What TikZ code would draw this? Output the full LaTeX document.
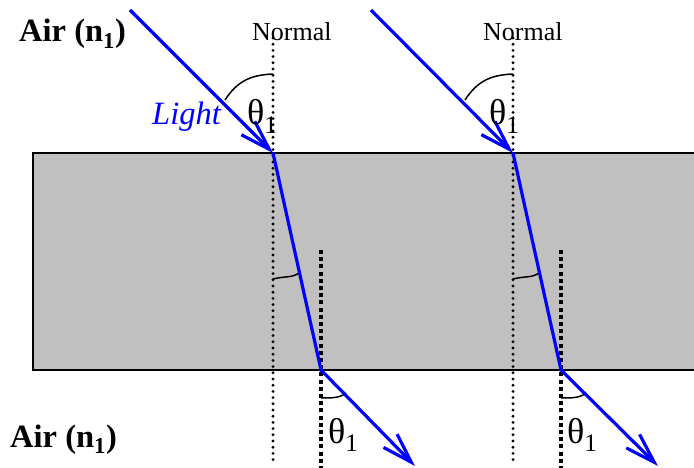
\documentclass[tikz,border=0pt]{standalone}
\usepackage{fontspec}
\setmainfont{Liberation Serif}
\usetikzlibrary{arrows.meta}
\definecolor{slabgray}{HTML}{C0C0C0}
\definecolor{raycol}{HTML}{0000FF}
\begin{document}
\begin{tikzpicture}[x=1pt,y=-1pt,
  raystyle/.style={draw=raycol, line width=3.2pt, line join=round,
    -{Straight Barb[length=30pt,width=19pt]}},
  normalline/.style={line width=3.2pt, line cap=round, dash pattern=on 0pt off 6.2pt},
  exitnormal/.style={line width=4.2pt, dash pattern=on 4pt off 3.2pt},
  anglearc/.style={line width=1.5pt},
  bigtxt/.style={inner sep=0pt, font=\fontsize{32.5}{32.5}\selectfont\bfseries},
  nrmtxt/.style={inner sep=0pt, font=\fontsize{26}{26}\selectfont},
  thtxt/.style={inner sep=0pt, font=\fontsize{36}{36}\selectfont},
]
\useasboundingbox (0,0) rectangle (694,468);
\clip (0,0) rectangle (694,468);
% slab
\fill[slabgray] (33,153) rectangle (694,370);
\draw[line width=2pt] (694,153) -- (33,153) -- (33,370) -- (694,370);

% points
\coordinate (s1) at (130,10);
\coordinate (h1) at (273,153);
\coordinate (e1) at (321,370);
\coordinate (t1) at (415,466);
\coordinate (s2) at (371,10);
\coordinate (h2) at (513,153);
\coordinate (e2) at (561,370);
\coordinate (t2) at (658,466);

% normals
\coordinate (n1a) at (273,38);
\coordinate (n1b) at (273,460);
\coordinate (n2a) at (513,38);
\coordinate (n2b) at (513,460);
\coordinate (m1a) at (321,250);
\coordinate (m1b) at (321,470);
\coordinate (m2a) at (561,250);
\coordinate (m2b) at (561,470);
\draw[normalline] (n1a) -- (n1b);
\draw[normalline] (n2a) -- (n2b);
\draw[exitnormal] (m1a) -- (m1b);
\draw[exitnormal] (m2a) -- (m2b);

% angle arcs
\draw[anglearc] (225,100) .. controls (238,80) and (252,75) .. (273,74);
\draw[anglearc] (465,100) .. controls (478,80) and (492,75) .. (513,74);
\draw[anglearc] (273,279) .. controls (285,276) and (292,278) .. (299,273);
\draw[anglearc] (513,279) .. controls (525,276) and (532,278) .. (539,273);
\draw[anglearc] (321,398) .. controls (332,398) and (340,398) .. (346,393);
\draw[anglearc] (561,398) .. controls (572,398) and (580,398) .. (586,393);

% rays
\draw[raystyle] (s1) -- (h1);
\draw[raystyle] (h1) -- (e1) -- (t1);
\draw[raystyle] (s2) -- (h2);
\draw[raystyle] (h2) -- (e2) -- (t2);

% labels
\node[bigtxt, anchor=base west] (air1) at (19,42) {Air (n\textsubscript{1})};
\node[bigtxt, anchor=base west] (air2) at (10,447) {Air (n\textsubscript{1})};
\node[nrmtxt, anchor=base west] (nor1) at (252,41) {Normal};
\node[nrmtxt, anchor=base west] (nor2) at (483,41) {Normal};
\node[inner sep=0pt, anchor=base west, text=raycol,
  font=\fontsize{32.5}{32.5}\selectfont\itshape] (light) at (152,125) {Light};
\node[thtxt, anchor=base west] (th1) at (247,125) {θ\textsubscript{1}};
\node[thtxt, anchor=base west] (th2) at (489,125) {θ\textsubscript{1}};
\node[thtxt, anchor=base west] (th3) at (328,443) {θ\textsubscript{1}};
\node[thtxt, anchor=base west] (th4) at (567,443) {θ\textsubscript{1}};
\end{tikzpicture}
\end{document}
